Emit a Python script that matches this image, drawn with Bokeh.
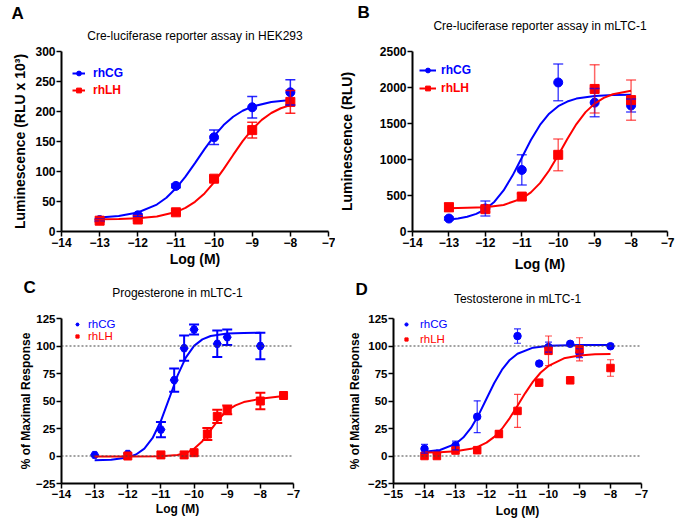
from bokeh.plotting import figure
from bokeh.models import (ColumnDataSource, Whisker, TeeHead, Legend, LegendItem,
                          Span, FixedTicker, Range1d, Title, LinearAxis)
from bokeh.layouts import column, row
from bokeh.embed import file_html
from bokeh.resources import INLINE

BLUE = "#0000FF"
RED = "#FF0000"
FONT = "Liberation Sans"

# ---------------- Panel A : Cre-luciferase reporter assay in HEK293 ----------------
a_x = [-13, -12, -11, -10, -9, -8]
a_cg = [19, 27, 76, 157, 207, 232]
a_cg_err = [2, 2, 3, 12, 18, 21]
a_lh = [18, 20, 32, 88, 169, 216]
a_lh_err = [2, 2, 3, 4, 13, 19]
a_cg_fit_x = [-13, -12.5, -12, -11.5, -11.25, -11, -10.75, -10.5, -10.25, -10, -9.75, -9.5, -9.25, -9, -8.5, -8]
a_cg_fit_y = [23.5, 25.8, 31.6, 44.9, 56.3, 72.0, 91.4, 113.9, 137.2, 158.9, 177.3, 191.2, 201.3, 208.2, 215.8, 219.0]
a_lh_fit_x = [-13, -12.5, -12, -11.5, -11, -10.75, -10.5, -10.25, -10, -9.75, -9.5, -9.25, -9, -8.75, -8.5, -8.25, -8]
a_lh_fit_y = [20.3, 20.8, 21.9, 25.0, 32.4, 39.3, 49.4, 63.5, 81.9, 104.0, 127.6, 150.6, 170.4, 186.0, 197.5, 205.4, 210.7]

# ---------------- Panel B : Cre-luciferase reporter assay in mLTC-1 ----------------
b_x = [-13, -12, -11, -10, -9, -8]
b_cg = [180, 320, 855, 2070, 1790, 1750]
b_cg_err = [20, 105, 210, 255, 195, 90]
b_lh = [337, 310, 485, 1065, 1980, 1825]
b_lh_err = [60, 40, 40, 220, 335, 280]
b_cg_fit_x = [-13, -12.75, -12.5, -12.25, -12, -11.75, -11.5, -11.25, -11, -10.75, -10.5, -10.25, -10, -9.75, -9.5, -9, -8.5, -8]
b_cg_fit_y = [167, 180, 204, 245, 309, 414, 570, 780, 1025, 1270, 1480, 1636, 1741, 1805, 1846, 1883, 1895, 1898]
b_lh_fit_x = [-13, -12, -11.5, -11, -10.75, -10.5, -10.25, -10, -9.75, -9.5, -9.25, -9, -8.75, -8.5, -8]
b_lh_fit_y = [322, 337, 369, 457, 544, 672, 847, 1059, 1285, 1492, 1658, 1776, 1856, 1906, 1955]

# ---------------- Panel C : Progesterone in mLTC-1 ----------------
c_cg_x = [-13, -12, -11, -10.6, -10.3, -10, -9.3, -9, -8]
c_cg = [1, 2, 24, 69, 98, 115, 102, 108, 100]
c_cg_err = [0, 0, 7, 10.5, 11.5, 4.5, 12, 7, 12]
c_lh_x = [-12, -11, -10.3, -10, -9.6, -9.3, -9, -8, -7.3]
c_lh = [0, 1, 1, 3, 20, 36, 42, 50, 55]
c_lh_err = [0, 0, 0, 0, 5.5, 6, 4, 7.5, 0]
c_cg_fit_x = [-13, -12.5, -12, -11.75, -11.5, -11.25, -11, -10.75, -10.5, -10.25, -10, -9.75, -9.5, -9, -8.5, -8]
c_cg_fit_y = [-3.9, -3.4, -1.4, 1.4, 6.7, 16.4, 32.0, 52.3, 73.1, 89.5, 100.1, 106.0, 109.1, 111.3, 111.8, 112.0]
c_lh_fit_x = [-13, -12, -11, -10.5, -10.25, -10, -9.75, -9.5, -9.25, -9, -8.75, -8.5, -8, -7.3]
c_lh_fit_y = [-0.5, -0.5, -0.2, 0.9, 2.7, 6.5, 13.5, 23.5, 33.5, 41.5, 46.0, 49.0, 52.0, 54.5]

# ---------------- Panel D : Testosterone in mLTC-1 ----------------
d_cg_x = [-14, -13.6, -13, -12.3, -11, -10.3, -10, -9.3, -9, -8]
d_cg = [6.6, 2, 9.6, 35.7, 109, 84, 99, 102, 93.5, 99.8]
d_cg_err = [4, 0, 4, 14.5, 6.5, 0, 4.5, 0, 4, 0]
d_lh_x = [-14, -13.6, -13, -12.3, -11.6, -11, -10.3, -10, -9.3, -9, -8]
d_lh = [0, 0, 5, 5.3, 20, 41, 66.7, 95.6, 68.8, 97, 80]
d_lh_err = [0, 0, 0, 0, 3, 15, 0, 13.5, 0, 10.5, 7.5]
d_cg_fit_x = [-14, -13.5, -13, -12.75, -12.5, -12.25, -12, -11.75, -11.5, -11.25, -11, -10.5, -10, -9, -8]
d_cg_fit_y = [3.8, 5.5, 11.0, 16.8, 25.5, 37.6, 52.0, 66.4, 78.5, 87.3, 93.0, 98.5, 100.2, 100.9, 101.0]
d_lh_fit_x = [-14, -13.5, -13, -12.5, -12.25, -12, -11.75, -11.5, -11.25, -11, -10.75, -10.5, -10.25, -10, -9.5, -9, -8.5, -8]
d_lh_fit_y = [3.2, 3.5, 4.3, 6.5, 8.7, 12.2, 17.4, 24.8, 34.5, 45.7, 57.2, 67.6, 75.9, 81.9, 88.8, 91.4, 92.4, 92.8]


def make_panel(width, height, borders, xr, yr, xticks, yticks, title, title_standoff,
               letter, letter_offset, letter_standoff, letter_valign, ylabel, ylabel_standoff,
               fs_tick, fs_axis, xlabel_standoff):
    left, right, top, bottom = borders
    p = figure(width=width, height=height, output_backend="svg", toolbar_location=None,
               title=None, x_range=Range1d(*xr), y_range=Range1d(*yr),
               min_border_left=left, min_border_right=right,
               min_border_top=top, min_border_bottom=bottom)
    p.xgrid.visible = False
    p.ygrid.visible = False
    p.outline_line_color = None
    p.background_fill_color = "white"
    p.border_fill_color = "white"
    xax = p.below[0]
    yax = p.left[0]
    for ax, ticks in ((xax, xticks), (yax, yticks)):
        ax.ticker = FixedTicker(ticks=ticks)
        ax.axis_line_width = 2
        ax.axis_line_color = "black"
        ax.major_tick_line_width = 1.5
        ax.major_tick_line_color = "black"
        ax.major_tick_out = 5
        ax.major_tick_in = 0
        ax.minor_tick_line_color = None
        ax.major_label_text_font = FONT
        ax.major_label_text_font_style = "bold"
        ax.major_label_text_font_size = fs_tick
        ax.major_label_text_color = "black"
        ax.major_label_standoff = 1
        ax.axis_label_text_font = FONT
        ax.axis_label_text_font_style = "bold"
        ax.axis_label_text_font_size = fs_axis
        ax.axis_label_text_color = "black"
    xax.axis_label = "Log (M)"
    xax.axis_label_standoff = xlabel_standoff
    yax.axis_label = ylabel
    yax.axis_label_standoff = ylabel_standoff
    # panel title drawn as the label of an empty axis above the frame
    top_axis = LinearAxis(axis_label=title, ticker=FixedTicker(ticks=[]),
                          axis_line_color=None, major_tick_line_color=None,
                          minor_tick_line_color=None, major_tick_out=0, major_tick_in=0,
                          minor_tick_out=0, minor_tick_in=0, major_label_standoff=0,
                          major_label_text_font_size="0px",
                          axis_label_standoff=title_standoff, axis_label_text_font=FONT,
                          axis_label_text_font_size="12px", axis_label_text_font_style="normal",
                          axis_label_text_color="black")
    p.add_layout(top_axis, "above")
    p.add_layout(Title(text=letter, align="left", offset=letter_offset,
                       vertical_align=letter_valign,
                       text_font=FONT, text_font_size="17px", text_font_style="bold",
                       text_color="black", standoff=letter_standoff), "above")
    return p


def add_series(p, xs, ys, errs, fx, fy, color, marker, msize, cap, lw_err, lw_fit, err_alpha):
    r_line = p.line(fx, fy, line_color=color, line_width=lw_fit)
    ex = [x for x, e in zip(xs, errs) if e > 0]
    up = [y + e for y, e in zip(ys, errs) if e > 0]
    lo = [y - e for y, e in zip(ys, errs) if e > 0]
    src = ColumnDataSource(dict(x=ex, upper=up, lower=lo))
    w = Whisker(base="x", upper="upper", lower="lower", source=src,
                line_color=color, line_width=lw_err, line_alpha=err_alpha,
                upper_head=TeeHead(size=cap, line_color=color, line_width=lw_err, line_alpha=err_alpha),
                lower_head=TeeHead(size=cap, line_color=color, line_width=lw_err, line_alpha=err_alpha),
                level="glyph")
    p.add_layout(w)
    r_pts = p.scatter(xs, ys, marker=marker, size=msize, fill_color=color, line_color=color)
    return r_line, r_pts


def add_legend(p, label, renderers, color, loc, glyph_w, standoff, fs, bold):
    leg = Legend(items=[LegendItem(label=label, renderers=renderers)], location=loc,
                 glyph_width=glyph_w, glyph_height=12, label_height=12, label_standoff=standoff,
                 padding=0, margin=0, spacing=0, border_line_color=None,
                 background_fill_alpha=0, label_text_color=color, label_text_font=FONT,
                 label_text_font_size=fs, label_text_font_style="bold" if bold else "normal")
    p.add_layout(leg)


# Panel A
pA = make_panel(335, 274, (61, 7, 51, 42), (-14, -7), (0, 300), list(range(-14, -6)),
                list(range(0, 301, 50)), "Cre-luciferase reporter assay in HEK293", 9,
                "A", -50, 2, "top", "Luminescence (RLU x 10³)", 4, "12px", "14px", 1)
lA1, sA1 = add_series(pA, a_x, a_cg, a_cg_err, a_cg_fit_x, a_cg_fit_y, BLUE, "circle", 9, 10, 1.5, 2, 0.85)
lA2, sA2 = add_series(pA, a_x, a_lh, a_lh_err, a_lh_fit_x, a_lh_fit_y, RED, "square", 9, 10, 1.5, 2, 0.85)
add_legend(pA, "rhCG", [lA1, sA1], BLUE, (11, 151), 13, 8, "12px", True)
add_legend(pA, "rhLH", [lA2, sA2], RED, (11, 134), 13, 8, "12px", True)

# Panel B
pB = make_panel(340, 274, (58, 8, 51, 42), (-14, -7), (0, 2500), list(range(-14, -6)),
                list(range(0, 2501, 500)), "Cre-luciferase reporter assay in mLTC-1", 19,
                "B", -55, -16, "top", "Luminescence (RLU)", 22, "12px", "14px", 6)
lB1, sB1 = add_series(pB, b_x, b_cg, b_cg_err, b_cg_fit_x, b_cg_fit_y, BLUE, "circle", 9, 10, 1.5, 2, 0.7)
lB2, sB2 = add_series(pB, b_x, b_lh, b_lh_err, b_lh_fit_x, b_lh_fit_y, RED, "square", 9, 10, 1.5, 2, 0.6)
add_legend(pB, "rhCG", [lB1, sB1], BLUE, (7, 154), 17, 5, "12px", True)
add_legend(pB, "rhLH", [lB2, sB2], RED, (7, 136), 17, 5, "12px", True)

# Panel C
pC = make_panel(335, 250, (61, 42, 44, 41), (-14, -7), (-25, 125), list(range(-14, -6)),
                list(range(-25, 126, 25)), "Progesterone in mLTC-1", 19,
                "C", -38, -29, "bottom", "% of Maximal Response", 0, "11.5px", "12px", 1)
for v in (0, 100):
    pC.add_layout(Span(location=v, dimension="width", line_color="#444444",
                       line_dash="2 2", line_width=1.2))
lC1, sC1 = add_series(pC, c_cg_x, c_cg, c_cg_err, c_cg_fit_x, c_cg_fit_y, BLUE, "hex", 8, 10, 2, 2, 1.0)
lC2, sC2 = add_series(pC, c_lh_x, c_lh, c_lh_err, c_lh_fit_x, c_lh_fit_y, RED, "square", 8, 10, 2, 2, 1.0)
add_legend(pC, "rhCG", [sC1], BLUE, (12, 153), 8, 7, "11.5px", False)
add_legend(pC, "rhLH", [sC2], RED, (12, 141), 8, 7, "11.5px", False)

# Panel D
pD = make_panel(340, 250, (58, 34, 44, 41), (-15, -7), (-25, 125), list(range(-15, -6)),
                list(range(-25, 126, 25)), "Testosterone in mLTC-1", 13,
                "D", -38, -20, "bottom", "% of Maximal Response", 3, "11.5px", "12px", 3)
for v in (0, 100):
    pD.add_layout(Span(location=v, dimension="width", line_color="#444444",
                       line_dash="2 2", line_width=1.2))
lD1, sD1 = add_series(pD, d_cg_x, d_cg, d_cg_err, d_cg_fit_x, d_cg_fit_y, BLUE, "circle", 7.5, 7, 1.2, 2, 0.8)
lD2, sD2 = add_series(pD, d_lh_x, d_lh, d_lh_err, d_lh_fit_x, d_lh_fit_y, RED, "square", 7.5, 7, 1.2, 2, 0.7)
add_legend(pD, "rhCG", [sD1], BLUE, (9, 153), 8, 10, "11.5px", False)
add_legend(pD, "rhLH", [sD2], RED, (9, 138), 8, 10, "11.5px", False)

layout = column(row(pA, pB), row(pC, pD))
open("out.html", "w").write(file_html(layout, INLINE))
